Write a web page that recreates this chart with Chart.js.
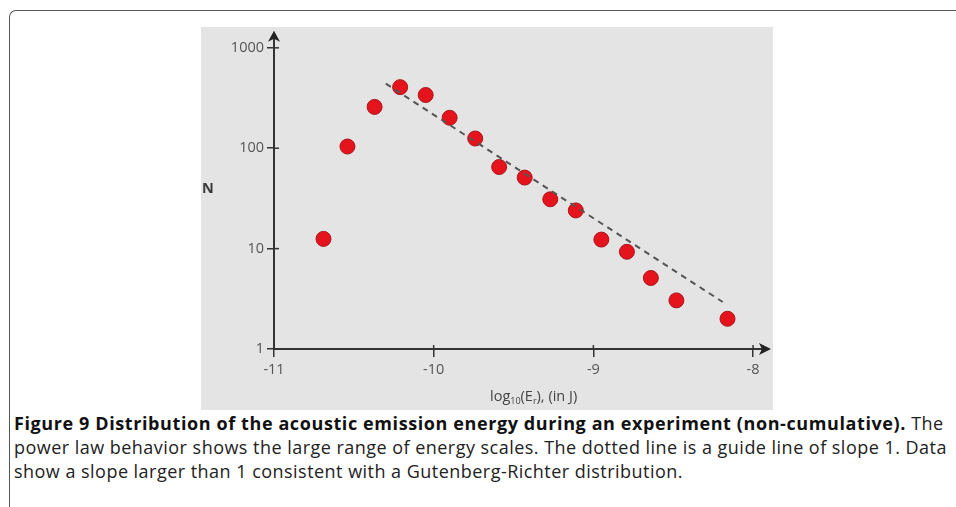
<!DOCTYPE html>
<html>
<head>
<meta charset="utf-8">
<script src="https://cdn.jsdelivr.net/npm/chart.js@4.4.1/dist/chart.umd.min.js"></script>
<style>
  html, body { margin: 0; padding: 0; background: #fff; width: 956px; height: 507px; overflow: hidden; }
  .frame { position: absolute; left: 9px; top: 10px; width: 1000px; height: 600px;
           border-left: 1.5px solid #555; border-top: 1.5px solid #555; border-top-left-radius: 7px; }
  .panel { position: absolute; left: 201px; top: 27px; width: 572px; height: 383px; background: #e4e4e4; }
  .ylab { position: absolute; left: 202px; top: 178px; font: bold 14.5px 'Open Sans', sans-serif; color: #3a3a3a; }
  .xlab { position: absolute; left: 490px; top: 386px; font: 14.5px 'Open Sans', sans-serif; color: #444;
          white-space: nowrap; letter-spacing: 0px; }
  .xlab sub { font-size: 9px; vertical-align: -3px; }
  .caption { position: absolute; left: 14px; top: 411px; font: 18px 'Open Sans', sans-serif; color: #222;
             line-height: 24px; white-space: nowrap; letter-spacing: 0.47px; }
  .caption b { color: #111; letter-spacing: 0.6px; }
</style>
</head>
<body>
<div class="frame"></div>
<div class="panel"><canvas id="chart" width="572" height="383"></canvas></div>
<div class="ylab">N</div>
<div class="xlab">log<sub>10</sub>(E<sub>r</sub>), (in J)</div>
<div class="caption">
  <b>Figure 9 Distribution of the acoustic emission energy during an experiment (non-cumulative).</b> The<br>
  power law behavior shows the large range of energy scales. The dotted line is a guide line of slope 1. Data<br>
  show a slope larger than 1 consistent with a Gutenberg-Richter distribution.
</div>
<script>
// data
const logE = [-10.69, -10.54, -10.37, -10.21, -10.05, -9.90, -9.74, -9.59, -9.43, -9.27, -9.11, -8.95, -8.79, -8.64, -8.48, -8.16];
const counts = [12.5, 104, 258, 406, 339, 201, 125, 65, 51, 31, 24, 12.3, 9.3, 5.1, 3.05, 2.0];
const guideE = [-10.30, -8.19];
const guideN = [440, 2.94];
const xTicks = [-11, -10, -9, -8];
const yTicks = [1, 10, 100, 1000];

const AXIS = '#333';

// inner half of the ticks + arrow heads
const axisDecor = {
  id: 'axisDecor',
  afterDraw(chart) {
    const { ctx, chartArea: a, scales: { x, y } } = chart;
    ctx.save();
    ctx.strokeStyle = AXIS;
    ctx.lineWidth = 1.5;
    xTicks.forEach(v => {
      const px = x.getPixelForValue(v);
      ctx.beginPath(); ctx.moveTo(px, a.bottom); ctx.lineTo(px, a.bottom - 4); ctx.stroke();
    });
    yTicks.forEach(v => {
      const py = y.getPixelForValue(v);
      ctx.beginPath(); ctx.moveTo(a.left, py); ctx.lineTo(a.left + 5, py); ctx.stroke();
    });
    ctx.fillStyle = '#222';
    // up arrow
    ctx.beginPath();
    ctx.moveTo(a.left, a.top - 8);
    ctx.lineTo(a.left + 6, a.top + 3);
    ctx.lineTo(a.left, a.top);
    ctx.lineTo(a.left - 6, a.top + 3);
    ctx.closePath(); ctx.fill();
    // right arrow
    ctx.beginPath();
    ctx.moveTo(a.right + 9, a.bottom);
    ctx.lineTo(a.right - 3, a.bottom - 6);
    ctx.lineTo(a.right, a.bottom);
    ctx.lineTo(a.right - 3, a.bottom + 6);
    ctx.closePath(); ctx.fill();
    ctx.restore();
  }
};

new Chart(document.getElementById('chart'), {
  type: 'scatter',
  data: {
    datasets: [
      {
        label: 'guide',
        data: guideE.map((e, i) => ({ x: e, y: guideN[i] })),
        showLine: true,
        borderColor: '#555',
        borderWidth: 2,
        borderDash: [6, 5],
        pointRadius: 0,
      },
      {
        label: 'N',
        data: logE.map((e, i) => ({ x: e, y: counts[i] })),
        backgroundColor: '#e5141c',
        borderColor: '#a8161c',
        borderWidth: 1,
        pointRadius: 7.5,
      },
    ],
  },
  options: {
    responsive: false,
    animation: false,
    layout: { padding: { top: 8, right: 11, left: 0, bottom: 0 } },
    plugins: { legend: { display: false }, tooltip: { enabled: false } },
    scales: {
      x: {
        type: 'linear',
        min: -11,
        max: -7.944,
        afterFit: s => { s.height = 61; },
        afterBuildTicks: s => { s.ticks = xTicks.map(v => ({ value: v })); },
        border: { color: AXIS, width: 2 },
        grid: { drawOnChartArea: false, color: AXIS, lineWidth: 1.5, tickLength: 8 },
        ticks: { color: '#555', padding: 4, font: { family: 'Open Sans', size: 14.5 }, callback: v => String(v) },
      },
      y: {
        type: 'logarithmic',
        min: 1,
        max: 1233,
        afterFit: s => { s.width = 73; },
        afterBuildTicks: s => { s.ticks = yTicks.map(v => ({ value: v })); },
        border: { color: AXIS, width: 2 },
        grid: { drawOnChartArea: false, color: AXIS, lineWidth: 1.5, tickLength: 7 },
        ticks: { color: '#555', padding: 3, font: { family: 'Open Sans', size: 14.5 }, callback: v => String(v) },
      },
    },
  },
  plugins: [axisDecor],
});
</script>
</body>
</html>
